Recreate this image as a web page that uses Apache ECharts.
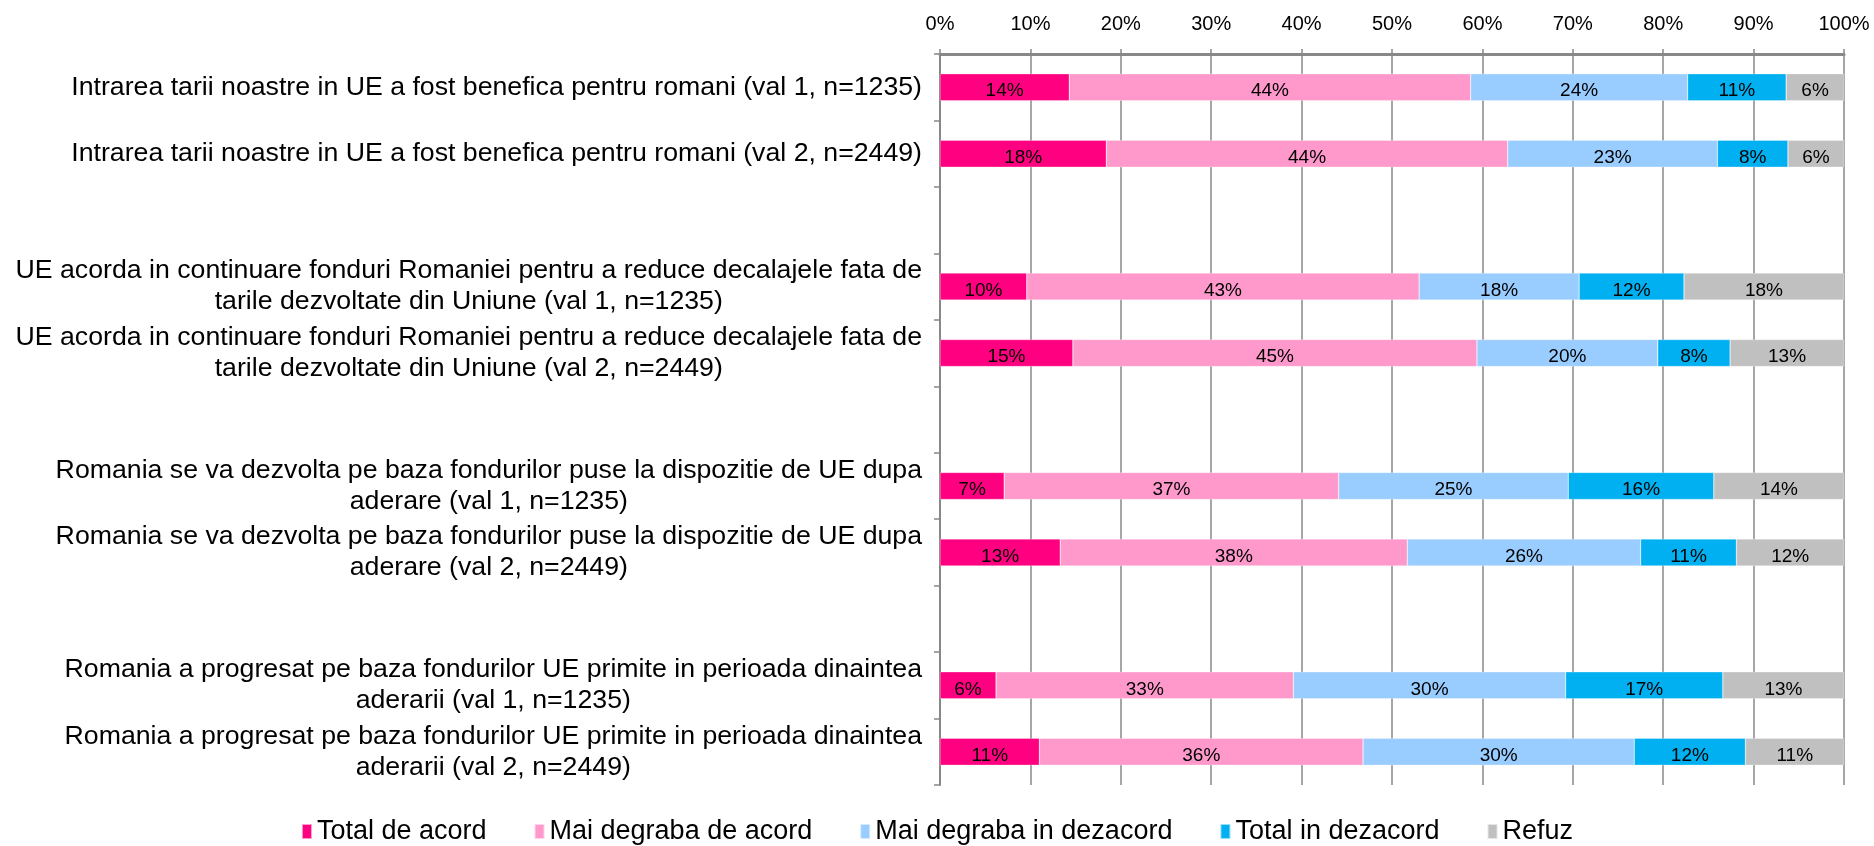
<!DOCTYPE html>
<html>
<head>
<meta charset="utf-8">
<script src="https://cdn.jsdelivr.net/npm/echarts@6/dist/echarts.min.js"></script>
<style>
  html, body { margin: 0; padding: 0; background: #fff; }
  #chart { width: 1874px; height: 846px; }
</style>
</head>
<body>
<div id="chart"></div>
<script>
// categories (empty strings are the spacer rows between groups)
var categories = [
  'Intrarea tarii noastre in UE a fost benefica pentru romani (val 1, n=1235)',
  'Intrarea tarii noastre in UE a fost benefica pentru romani (val 2, n=2449)',
  '',
  'UE acorda in continuare fonduri Romaniei pentru a reduce decalajele fata de\ntarile dezvoltate din Uniune (val 1, n=1235)',
  'UE acorda in continuare fonduri Romaniei pentru a reduce decalajele fata de\ntarile dezvoltate din Uniune (val 2, n=2449)',
  '',
  'Romania se va dezvolta pe baza fondurilor puse la dispozitie de UE dupa\naderare (val 1, n=1235)',
  'Romania se va dezvolta pe baza fondurilor puse la dispozitie de UE dupa\naderare (val 2, n=2449)',
  '',
  'Romania a progresat pe baza fondurilor UE primite in perioada dinaintea\naderarii (val 1, n=1235)',
  'Romania a progresat pe baza fondurilor UE primite in perioada dinaintea\naderarii (val 2, n=2449)'
]

var seriesNames = ['Total de acord', 'Mai degraba de acord', 'Mai degraba in dezacord', 'Total in dezacord', 'Refuz']
var colors = ['#FF0080', '#FF99CC', '#99CCFF', '#00B0F0', '#C0C0C0']

var totalAcord = [14.3, 18.4, null, 9.6, 14.7, null, 7.1, 13.3, null, 6.2, 11.0]
var maiDegrabaAcord = [44.4, 44.4, null, 43.4, 44.7, null, 37.0, 38.4, null, 32.9, 35.8]
var maiDegrabaDezacord = [24.0, 23.2, null, 17.7, 20.0, null, 25.4, 25.8, null, 30.1, 30.0]
var totalDezacord = [10.9, 7.8, null, 11.6, 8.0, null, 16.1, 10.6, null, 17.4, 12.3]
var refuz = [6.4, 6.2, null, 17.7, 12.6, null, 14.4, 11.9, null, 13.4, 10.9]

var xTicks = [0, 10, 20, 30, 40, 50, 60, 70, 80, 90, 100]

var allValues = [totalAcord, maiDegrabaAcord, maiDegrabaDezacord, totalDezacord, refuz]

var chart = echarts.init(document.getElementById('chart'))

var series = seriesNames.map(function (name, i) {
  return {
    name: name,
    type: 'bar',
    stack: 'total',
    barWidth: 27,
    data: allValues[i],
    itemStyle: {
      color: colors[i],
      borderColor: 'rgba(255,255,255,0.6)',
      borderWidth: 0.5
    },
    label: {
      show: true,
      position: 'inside',
      offset: [0, 4],
      color: '#000',
      fontSize: 19,
      formatter: function (p) {
        return p.value == null ? '' : Math.round(p.value) + '%'
      }
    }
  }
})

var option = {
  backgroundColor: '#fff',
  animation: false,
  textStyle: { fontFamily: 'Liberation Sans, Arial, sans-serif' },
  grid: {
    left: 940,
    right: 30,
    top: 54,
    bottom: 61,
    containLabel: false
  },
  legend: {
    bottom: -4,
    left: 'center',
    itemWidth: 10,
    itemHeight: 15,
    itemGap: 47,
    icon: 'rect',
    textStyle: { fontSize: 27, color: '#000' },
    data: seriesNames
  },
  xAxis: {
    type: 'value',
    position: 'top',
    min: 0,
    max: 100,
    interval: 10,
    axisLine: { show: true, lineStyle: { color: '#888', width: 3 } },
    axisTick: { show: true, length: 5, lineStyle: { color: '#888', width: 1.5 } },
    splitLine: { show: true, lineStyle: { color: '#888', width: 1.5 } },
    axisLabel: {
      color: '#000',
      fontSize: 20,
      margin: 20,
      formatter: function (v) {
        return xTicks.indexOf(v) >= 0 ? v + '%' : ''
      }
    }
  },
  yAxis: {
    type: 'category',
    inverse: true,
    data: categories,
    axisLine: { show: true, lineStyle: { color: '#888', width: 2 } },
    axisTick: { show: true, length: 6, lineStyle: { color: '#888', width: 1.5 } },
    axisLabel: {
      color: '#000',
      fontSize: 26.7,
      margin: 18,
      lineHeight: 31,
      formatter: function (v) {
        if (!v) return ''
        return v.split('\n').map(function (s) { return '{c|' + s + '}' }).join('\n')
      },
      rich: {
        c: { align: 'center', fontSize: 26.7, lineHeight: 31, color: '#000' }
      }
    }
  },
  series: series
}

chart.setOption(option)
</script>
</body>
</html>
